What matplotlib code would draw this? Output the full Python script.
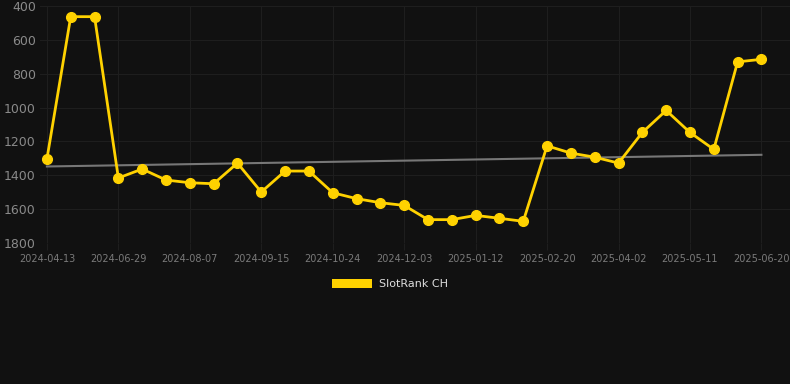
import matplotlib
matplotlib.use("Agg")
import matplotlib.pyplot as plt
from matplotlib.patches import Patch
import numpy as np

dates = ["2024-04-13", "2024-05-08", "2024-06-03", "2024-06-29", "2024-07-12", "2024-07-25",
         "2024-08-07", "2024-08-20", "2024-09-02", "2024-09-15", "2024-09-28", "2024-10-11",
         "2024-10-24", "2024-11-06", "2024-11-20", "2024-12-03", "2024-12-16", "2024-12-29",
         "2025-01-12", "2025-01-25", "2025-02-07", "2025-02-20", "2025-03-05", "2025-03-19",
         "2025-04-02", "2025-04-15", "2025-04-28", "2025-05-11", "2025-05-24", "2025-06-07",
         "2025-06-20"]
rank = [1304, 463, 463, 1416, 1363, 1428, 1444, 1450, 1328, 1499, 1375, 1375,
        1503, 1538, 1562, 1578, 1662, 1662, 1637, 1654, 1672, 1226, 1269, 1293,
        1328, 1147, 1017, 1147, 1247, 730, 715]
trend_start, trend_end = 1348, 1279

bg = "#111111"
gold = "#FFD200"

fig = plt.figure(figsize=(7.9, 3.84), dpi=100, facecolor=bg)
ax = fig.add_axes([40 / 790, 141 / 384, 750 / 790, 237 / 384], facecolor=bg)

x = np.arange(len(dates))
ax.plot([x[0], x[-1]], [trend_start, trend_end], color="#777777", lw=1.5, zorder=2)
ax.plot(x, rank, color=gold, lw=2.0, marker="o", markersize=7.0, zorder=3)

ax.set_ylim(1800, 400)
ax.set_yticks(range(400, 1801, 200))
ax.set_xlim(-0.29, 31.2)
ax.set_xticks(x[::3])
ax.set_xticklabels(dates[::3])

ax.grid(True, color="#1e1e1e", lw=0.8)
for s in ax.spines.values():
    s.set_visible(False)
ax.tick_params(axis="y", length=0, colors="#8a8a8a", labelsize=9, pad=3)
ax.tick_params(axis="x", length=5, color="#1e1e1e", colors="#7a7a7a", labelsize=7, pad=3)

fig.legend(handles=[Patch(facecolor=gold, label="SlotRank CH")], loc="center",
           bbox_to_anchor=(390 / 790, 100 / 384), frameon=False, fontsize=8,
           labelcolor="#dddddd", handlelength=3.6, handleheight=0.9, handletextpad=0.6)

fig.savefig("out.png", dpi=100, facecolor=bg)
